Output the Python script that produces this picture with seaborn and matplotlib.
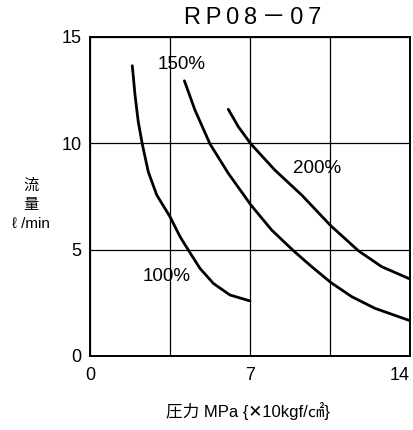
import matplotlib
matplotlib.use("Agg")
import matplotlib.pyplot as plt
import seaborn as sns
import pandas as pd

# Data
x100 = [1.85, 1.97, 2.11, 2.29, 2.55, 2.92, 3.50, 3.94, 4.35, 4.81, 5.40, 6.12, 7.00]
y100 = [13.65, 12.27, 11.02, 9.95, 8.66, 7.57, 6.55, 5.61, 4.90, 4.12, 3.41, 2.87, 2.59]
x150 = [4.13, 4.59, 5.25, 6.05, 7.04, 7.95, 8.90, 9.70, 10.53, 11.45, 12.47, 14.00]
y150 = [12.94, 11.57, 9.97, 8.59, 7.10, 5.92, 4.95, 4.20, 3.46, 2.79, 2.24, 1.66]
x200 = [6.05, 6.49, 7.04, 8.09, 9.26, 10.53, 11.74, 12.76, 14.00]
y200 = [11.60, 10.78, 9.97, 8.74, 7.57, 6.13, 4.95, 4.20, 3.62]
series_names = ["100%", "150%", "200%"]
label_pos = {"100%": (3.35, 3.73), "150%": (4.01, 13.71), "200%": (9.92, 8.82)}
x_ticks = [0, 7, 14]
y_ticks = [0, 5, 10, 15]

df = pd.concat([
    pd.DataFrame({"x": x100, "y": y100, "s": "100%"}),
    pd.DataFrame({"x": x150, "y": y150, "s": "150%"}),
    pd.DataFrame({"x": x200, "y": y200, "s": "200%"}),
])

sns.set_theme(style="white")
plt.rcParams['font.family'] = ['Liberation Sans', 'Noto Sans CJK JP', 'DejaVu Sans']

fig = plt.figure(figsize=(4.13, 4.30), dpi=100)
ax = fig.add_axes([90/413, 74/430, 320/413, 319/430])

sns.lineplot(data=df, x="x", y="y", units="s", estimator=None, sort=False,
             color="black", linewidth=2.0, ax=ax, legend=False)

ax.set_xlim(0, 14)
ax.set_ylim(0, 15)
ax.set_xticks(x_ticks)
ax.set_yticks(y_ticks)
ax.set_xticks([3.5, 10.5], minor=True)
ax.grid(True, which="both", color="black", linewidth=0.9)
ax.tick_params(axis="both", which="both", length=0, labelsize=13, colors="black")
ax.tick_params(axis="y", pad=6)
ax.tick_params(axis="x", pad=8)
xl = ax.get_xticklabels()
xl[-1].set_horizontalalignment("right")
for sp in ax.spines.values():
    sp.set_color("black")
    sp.set_linewidth(1.4)
    sp.set_visible(True)

for name in series_names:
    px, py = label_pos[name]
    ax.text(px, py, name, ha="center", va="center", fontsize=13.5, color="black")

ax.set_xlabel("")
ax.set_ylabel("")
fig.text(253/413, 1 - 18/430, "R\u2009P\u20090\u20098\u2009－\u20090\u20097", ha="center", va="center",
         fontsize=17, color="black")
fig.text(31/413, 1 - 205/430, "流\n量\nℓ /min", ha="center", va="center", fontsize=11,
         color="black", linespacing=1.45)
fig.text(248/413, 1 - 411/430, "圧力 MPa {✕10kgf/㎠}", ha="center", va="center",
         fontsize=12, color="black")

fig.savefig("out.png", dpi=100)
